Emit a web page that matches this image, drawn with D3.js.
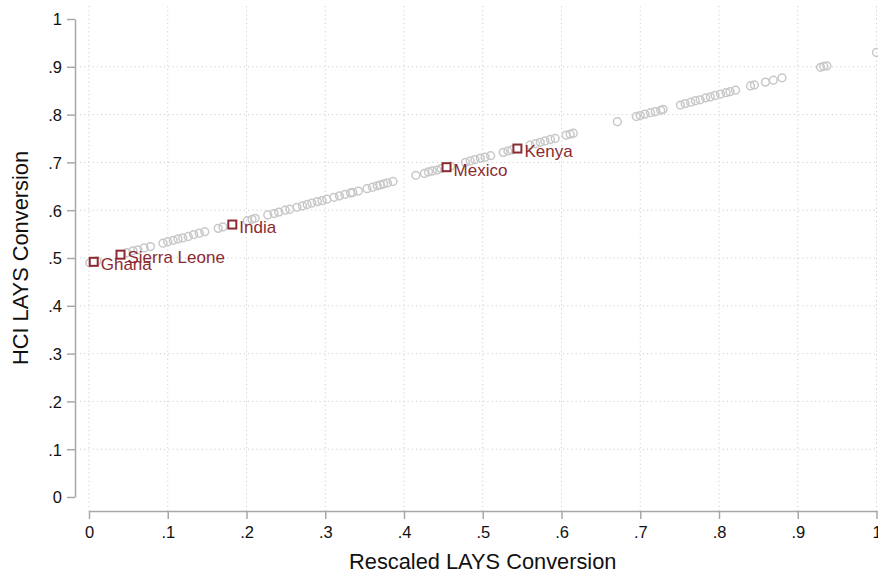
<!doctype html>
<html lang="en">
<head>
<meta charset="utf-8">
<title>HCI vs Rescaled LAYS Conversion</title>
<script src="https://cdn.jsdelivr.net/npm/d3@7/dist/d3.min.js"></script>
<style>
html, body { margin: 0; padding: 0; background: #fff; }
svg { display: block; font-family: "Liberation Sans", Arial, Helvetica, sans-serif; }
.grid line { stroke: #cfcfcf; stroke-width: 1; stroke-dasharray: 1.2 3; }
.axis path, .axis line { stroke: #a8a8a8; stroke-width: 1.5; }
.axis text { fill: #111; font-size: 16.5px; }
.title { fill: #111; font-size: 21.8px; }
</style>
</head>
<body>
<svg id="chart" width="878" height="574"></svg>
<script>
// gray points: rescaled LAYS (x) against HCI LAYS (y)
const allX = [0.001, 0.010, 0.048, 0.056, 0.062, 0.070, 0.078, 0.094, 0.100, 0.107,
  0.113, 0.119, 0.126, 0.133, 0.140, 0.147, 0.164, 0.170, 0.201, 0.207,
  0.211, 0.227, 0.235, 0.241, 0.249, 0.255, 0.264, 0.271, 0.277, 0.283,
  0.290, 0.296, 0.302, 0.311, 0.318, 0.325, 0.332, 0.335, 0.342, 0.353,
  0.360, 0.366, 0.370, 0.374, 0.379, 0.386, 0.415, 0.426, 0.431, 0.436,
  0.442, 0.447, 0.459, 0.478, 0.484, 0.490, 0.497, 0.503, 0.510, 0.526,
  0.532, 0.537, 0.560, 0.567, 0.573, 0.579, 0.586, 0.592, 0.606, 0.611,
  0.615, 0.671, 0.695, 0.700, 0.706, 0.713, 0.719, 0.726, 0.729, 0.751,
  0.757, 0.764, 0.770, 0.776, 0.783, 0.789, 0.795, 0.802, 0.809, 0.814,
  0.821, 0.840, 0.845, 0.859, 0.869, 0.880, 0.929, 0.933, 0.937, 1.000];
const allY = [0.490, 0.494, 0.511, 0.515, 0.517, 0.521, 0.524, 0.531, 0.534, 0.537,
  0.540, 0.542, 0.545, 0.549, 0.552, 0.555, 0.562, 0.565, 0.578, 0.581,
  0.583, 0.590, 0.593, 0.596, 0.600, 0.602, 0.606, 0.609, 0.612, 0.615,
  0.618, 0.620, 0.623, 0.627, 0.630, 0.633, 0.636, 0.637, 0.640, 0.645,
  0.648, 0.651, 0.653, 0.655, 0.657, 0.660, 0.673, 0.677, 0.680, 0.682,
  0.684, 0.687, 0.692, 0.700, 0.703, 0.706, 0.709, 0.711, 0.714, 0.721,
  0.724, 0.726, 0.736, 0.739, 0.742, 0.745, 0.748, 0.750, 0.757, 0.759,
  0.761, 0.785, 0.796, 0.798, 0.801, 0.804, 0.806, 0.809, 0.811, 0.820,
  0.823, 0.826, 0.829, 0.831, 0.835, 0.837, 0.840, 0.843, 0.846, 0.848,
  0.851, 0.860, 0.862, 0.868, 0.872, 0.877, 0.899, 0.901, 0.902, 0.930];

// highlighted countries
const hlNames = ["Ghana", "Sierra Leone", "India", "Mexico", "Kenya"];
const hlX = [0.006, 0.040, 0.182, 0.454, 0.544];
const hlY = [0.492, 0.507, 0.570, 0.690, 0.729];

const xTicks = [0, 0.1, 0.2, 0.3, 0.4, 0.5, 0.6, 0.7, 0.8, 0.9, 1];
const yTicks = [0, 0.1, 0.2, 0.3, 0.4, 0.5, 0.6, 0.7, 0.8, 0.9, 1];
const fmt = d => d === 0 ? "0" : d === 1 ? "1" : String(d).replace(/^0/, "");

const svg = d3.select("#chart");
const x = d3.scaleLinear().domain([0, 1]).range([89, 876.5]);
const y = d3.scaleLinear().domain([0, 1]).range([497, 19]);

// grid
const grid = svg.append("g").attr("class", "grid");
grid.selectAll(".vx").data(xTicks).enter().append("line")
  .attr("x1", d => x(d)).attr("x2", d => x(d))
  .attr("y1", 6).attr("y2", 511);
grid.selectAll(".hy").data(yTicks.filter(d => d > 0 && d < 1)).enter().append("line")
  .attr("x1", 80).attr("x2", 878)
  .attr("y1", d => y(d)).attr("y2", d => y(d));

// axes
const yAxis = svg.append("g").attr("class", "axis")
  .attr("transform", "translate(75,0)")
  .call(d3.axisLeft(y).tickValues(yTicks).tickFormat(fmt).tickSize(8).tickSizeOuter(0).tickPadding(5));
yAxis.selectAll("text").attr("dy", "0.36em");

const xAxis = svg.append("g").attr("class", "axis")
  .attr("transform", "translate(0,511)")
  .call(d3.axisBottom(x).tickValues(xTicks).tickFormat(fmt).tickSize(8).tickSizeOuter(0).tickPadding(7));

// titles
svg.append("text").attr("class", "title")
  .attr("x", (x(0) + x(1)) / 2).attr("y", 569)
  .attr("text-anchor", "middle").text("Rescaled LAYS Conversion");
svg.append("text").attr("class", "title")
  .attr("transform", "translate(28," + (y(0) + y(1)) / 2 + ") rotate(-90)")
  .attr("text-anchor", "middle").text("HCI LAYS Conversion");

// gray points
svg.append("g").selectAll("circle").data(allX).enter().append("circle")
  .attr("cx", d => x(d))
  .attr("cy", (d, i) => y(allY[i]))
  .attr("r", 3.9)
  .attr("fill", "none")
  .attr("stroke", "#c8c8c8")
  .attr("stroke-width", 1.5);

// highlighted squares and labels
const hl = svg.append("g").selectAll("g").data(hlNames).enter().append("g")
  .attr("transform", (d, i) => "translate(" + x(hlX[i]) + "," + y(hlY[i]) + ")");
hl.append("rect")
  .attr("x", -4).attr("y", -4).attr("width", 8).attr("height", 8)
  .attr("fill", "#fff").attr("stroke", "#8c2a31").attr("stroke-width", 2);
hl.append("text")
  .attr("x", 7).attr("y", 8.5)
  .attr("fill", "#8c2a31").style("font-size", "17px")
  .text(d => d);
</script>
</body>
</html>
